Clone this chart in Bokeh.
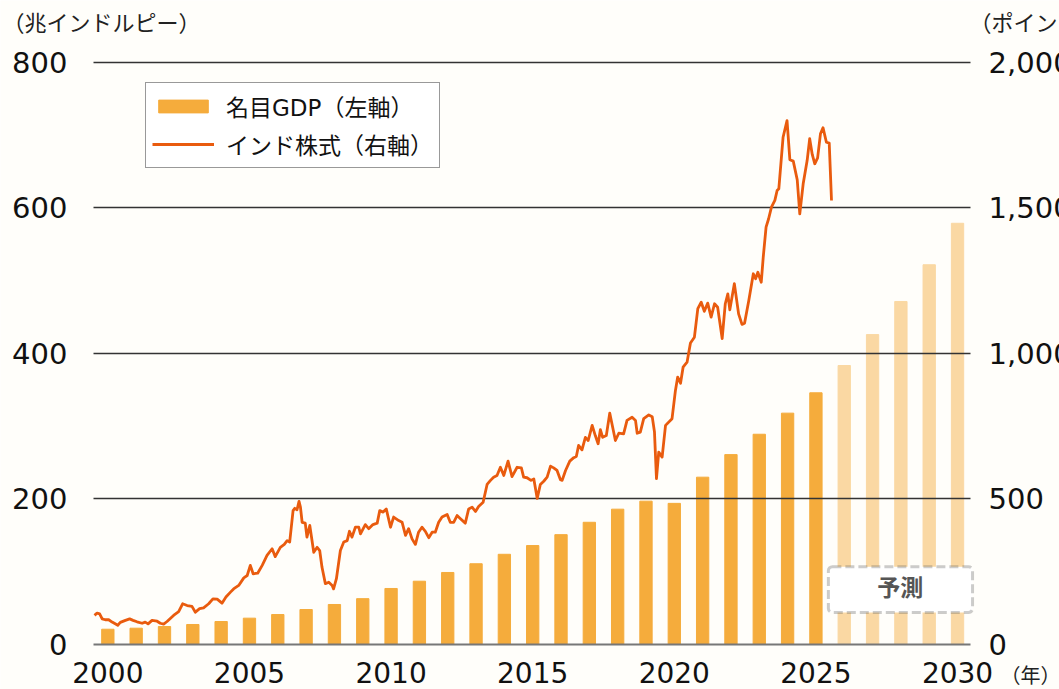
from bokeh.plotting import figure
from bokeh.models import (Range1d, LinearAxis, FixedTicker, NumeralTickFormatter,
                          Legend, LegendItem, BoxAnnotation, Label)
from bokeh.embed import file_html
from bokeh.resources import INLINE

# ---------------- data ----------------
gdp_years = list(range(2000, 2026))
gdp_values = [21, 22.4, 24.7, 27.5, 31.6, 36.2, 41.2, 48.1, 55, 63,
              77, 87, 99, 111, 124, 136, 151, 168, 186, 197,
              194, 230, 261, 289, 318, 346]
fc_years = [2026, 2027, 2028, 2029, 2030]
fc_values = [383.5, 426, 471.5, 522, 579]

stock_year = [
    1999.53, 1999.62, 1999.71, 1999.80, 1999.91, 2000.03, 2000.15, 2000.26, 2000.35, 2000.44,
    2000.62, 2000.77, 2000.89, 2001.03, 2001.21, 2001.32, 2001.42, 2001.56, 2001.74, 2001.85,
    2001.97, 2002.09, 2002.32, 2002.50, 2002.64, 2002.80, 2002.97, 2003.09, 2003.24, 2003.38,
    2003.56, 2003.71, 2003.86, 2004.03, 2004.17, 2004.33, 2004.44, 2004.62, 2004.80, 2004.92,
    2005.03, 2005.13, 2005.29, 2005.45, 2005.62, 2005.80, 2005.91, 2006.09, 2006.23, 2006.33,
    2006.42, 2006.54, 2006.60, 2006.68, 2006.75, 2006.80, 2006.86, 2006.97, 2007.03, 2007.13,
    2007.27, 2007.39, 2007.48, 2007.56, 2007.68, 2007.80, 2007.92, 2007.97, 2008.07, 2008.21,
    2008.33, 2008.45, 2008.53, 2008.62, 2008.74, 2008.86, 2008.92, 2009.09, 2009.21, 2009.36,
    2009.51, 2009.60, 2009.72, 2009.83, 2009.98, 2010.09, 2010.27, 2010.39, 2010.51, 2010.62,
    2010.74, 2010.86, 2010.97, 2011.09, 2011.21, 2011.33, 2011.45, 2011.56, 2011.68, 2011.80,
    2011.98, 2012.09, 2012.21, 2012.33, 2012.45, 2012.62, 2012.74, 2012.86, 2012.98, 2013.09,
    2013.25, 2013.39, 2013.51, 2013.62, 2013.74, 2013.86, 2013.98, 2014.13, 2014.27, 2014.45,
    2014.60, 2014.68, 2014.80, 2014.94, 2015.04, 2015.16, 2015.27, 2015.39, 2015.51, 2015.63,
    2015.74, 2015.86, 2015.98, 2016.04, 2016.16, 2016.31, 2016.45, 2016.54, 2016.62, 2016.74,
    2016.86, 2016.96, 2017.10, 2017.21, 2017.31, 2017.39, 2017.47, 2017.60, 2017.72, 2017.80,
    2017.92, 2018.04, 2018.21, 2018.33, 2018.51, 2018.63, 2018.69, 2018.80, 2018.92, 2019.10,
    2019.22, 2019.30, 2019.37, 2019.45, 2019.57, 2019.69, 2019.92, 2020.04, 2020.12, 2020.22,
    2020.31, 2020.45, 2020.57, 2020.71, 2020.83, 2020.95, 2021.06, 2021.18, 2021.30, 2021.42,
    2021.53, 2021.69, 2021.80, 2021.89, 2021.96, 2022.12, 2022.27, 2022.39, 2022.48, 2022.63,
    2022.79, 2022.87, 2022.95, 2023.07, 2023.14, 2023.24, 2023.33, 2023.43, 2023.55, 2023.63,
    2023.69, 2023.84, 2023.98, 2024.08, 2024.20, 2024.34, 2024.43, 2024.55, 2024.69, 2024.78,
    2024.87, 2024.96, 2025.06, 2025.16, 2025.25, 2025.37, 2025.47, 2025.55]
stock_index = [
    100, 108, 105, 88, 85, 85, 77, 71, 66, 76,
    83, 88, 83, 78, 73, 77, 71, 83, 80, 73,
    70, 79, 100, 113, 140, 134, 131, 111, 123, 126,
    140, 157, 156, 142, 163, 180, 191, 203, 229, 237,
    272, 243, 245, 272, 306, 329, 302, 334, 344, 357,
    352, 460, 468, 463, 492, 472, 420, 417, 369, 409,
    317, 334, 323, 266, 209, 214, 203, 191, 226, 323,
    352, 357, 389, 369, 403, 403, 380, 412, 398, 412,
    417, 460, 455, 466, 403, 438, 426, 420, 375, 398,
    363, 344, 386, 403, 389, 367, 386, 386, 420, 438,
    447, 420, 420, 443, 432, 417, 466, 472, 457, 474,
    489, 550, 564, 575, 581, 609, 581, 630, 577, 609,
    607, 575, 573, 564, 569, 502, 550, 561, 575, 613,
    607, 598, 566, 564, 598, 630, 642, 646, 684, 669,
    712, 701, 753, 718, 690, 738, 712, 718, 795, 758,
    701, 726, 724, 770, 781, 770, 726, 730, 776, 789,
    783, 730, 570, 661, 644, 753, 776, 873, 919, 898,
    953, 970, 1036, 1056, 1154, 1176, 1145, 1173, 1125, 1171,
    1159, 1051, 1171, 1205, 1150, 1240, 1136, 1100, 1104, 1182,
    1274, 1257, 1279, 1245, 1331, 1434, 1463, 1503, 1526, 1560,
    1566, 1743, 1800, 1666, 1661, 1597, 1480, 1583, 1663, 1738,
    1684, 1652, 1672, 1755, 1776, 1726, 1723, 1526]

x_ticks = [2000, 2005, 2010, 2015, 2020, 2025, 2030]
left_ticks = [0, 200, 400, 600, 800]
grid_ticks = [200, 400, 600, 800]
right_ticks = [0, 500, 1000, 1500, 2000]

legend_labels = ["名目GDP（左軸）", "インド株式（右軸）"]
left_unit = "（兆インドルピー）"
right_unit = "（ポイント）"
x_unit = "（年）"
forecast_text = "予測"

# ---------------- styling ----------------
BG = "#FFFEFA"
BAR = "#F5AC3C"
BAR_FC = "#FAD8A3"
LINE = "#E95B0E"
NUM_FONT = "DejaVu Sans"
JP_FONT = "DejaVu Sans, Noto Sans CJK JP"

X0, X1 = 1999.49, 2030.46          # ends of the plotted area (axis line / grid)

p = figure(width=1059, height=689, output_backend="svg", toolbar_location=None,
           x_axis_location=None, y_axis_location=None, title=None,
           x_range=Range1d(1996.21, 2033.60), y_range=Range1d(-61.86, 885.22),
           min_border=0, background_fill_color=BG, border_fill_color=BG)
p.outline_line_color = None
p.extra_y_ranges = {"right": Range1d(-154.65, 2213.05)}

# grid (drawn above the bars)
p.xgrid.visible = False
p.ygrid.ticker = FixedTicker(ticks=grid_ticks)
p.ygrid.grid_line_color = "#333333"
p.ygrid.grid_line_width = 1.3
p.ygrid.cross_bounds = (X0, X1)
p.ygrid.level = "guide"

# left axis
yl = LinearAxis(ticker=FixedTicker(ticks=left_ticks), fixed_location=X0)
yl.axis_line_color = None
yl.major_tick_line_color = None
yl.minor_tick_line_color = None
yl.major_label_standoff = 20
yl.major_label_text_font = NUM_FONT
yl.major_label_text_font_size = "29px"
yl.major_label_text_color = "#111111"
p.add_layout(yl, "left")

# right axis (index)
yr = LinearAxis(y_range_name="right", ticker=FixedTicker(ticks=right_ticks),
                formatter=NumeralTickFormatter(format="0,0"), fixed_location=X1)
yr.axis_line_color = None
yr.major_tick_line_color = None
yr.minor_tick_line_color = None
yr.major_label_standoff = 12
yr.major_label_text_font = NUM_FONT
yr.major_label_text_font_size = "29px"
yr.major_label_text_color = "#111111"
p.add_layout(yr, "right")

# bars
bars = p.vbar(x=gdp_years, top=gdp_values, width=0.435, color=BAR)
p.vbar(x=fc_years, top=fc_values, width=0.435, color=BAR_FC)

# line
ln = p.line(x=stock_year, y=stock_index, y_range_name="right", line_color=LINE,
            line_width=2.8, line_join="round")
ln.level = "annotation"

# bottom axis
xa = LinearAxis(ticker=FixedTicker(ticks=x_ticks), fixed_location=0, bounds=(X0, X1))
xa.axis_line_color = "#777777"
xa.axis_line_width = 2
xa.major_tick_line_color = None
xa.minor_tick_line_color = None
xa.major_label_standoff = 12
xa.major_label_text_font = NUM_FONT
xa.major_label_text_font_size = "28px"
xa.major_label_text_color = "#111111"
p.add_layout(xa, "below")

# forecast box
p.add_layout(BoxAnnotation(left=2025.44, right=2030.53, bottom=44, top=107,
                           fill_color="white", fill_alpha=1, line_color="#555555",
                           line_width=3, line_dash="9 4", border_radius=4))
p.add_layout(Label(x=2027.98, y=77, text=forecast_text, text_align="center",
                   text_baseline="middle", text_font=JP_FONT, text_font_size="23px",
                   text_font_style="bold", text_color="#555555"))

# unit labels (screen units from the bottom-left corner)
p.add_layout(Label(x=2, y=666, x_units="screen", y_units="screen", text=left_unit,
                   text_baseline="middle", text_font=JP_FONT, text_font_size="22px",
                   text_color="#222222"))
p.add_layout(Label(x=969, y=666, x_units="screen", y_units="screen", text=right_unit,
                   text_baseline="middle", text_font=JP_FONT, text_font_size="22px",
                   text_color="#222222"))
p.add_layout(Label(x=1000, y=14, x_units="screen", y_units="screen", text=x_unit,
                   text_baseline="middle", text_font=JP_FONT, text_font_size="20px",
                   text_color="#222222"))

# legend
legend = Legend(items=[LegendItem(label=legend_labels[0], renderers=[bars]),
                       LegendItem(label=legend_labels[1], renderers=[ln])],
                location=(145, 521), glyph_width=62, glyph_height=16, label_standoff=12,
                padding=6, spacing=4, margin=0,
                label_text_font=JP_FONT, label_text_font_size="23px", label_text_color="#111111",
                border_line_color="#333333", border_line_width=1.5,
                background_fill_color="white", background_fill_alpha=1)
p.add_layout(legend)

open("out.html", "w").write(file_html(p, INLINE))
